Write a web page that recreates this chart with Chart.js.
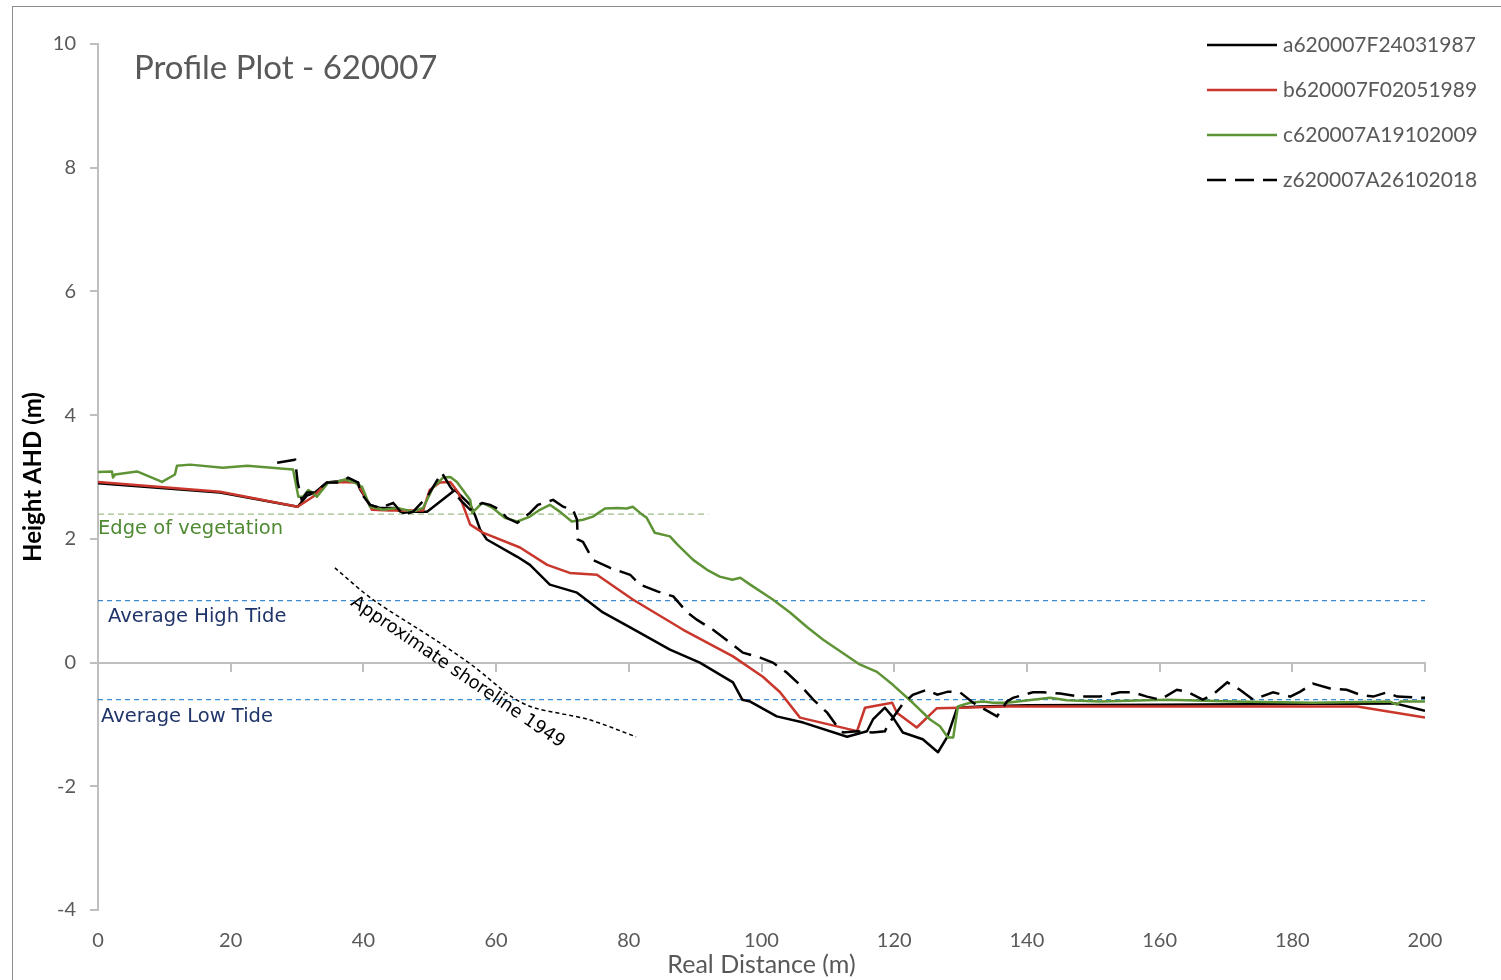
<!DOCTYPE html>
<html>
<head>
<meta charset="utf-8">
<title>Profile Plot - 620007</title>
<script src="https://cdn.jsdelivr.net/npm/chart.js@4.4.1/dist/chart.umd.min.js"></script>
<style>
  html, body { margin: 0; padding: 0; background: #ffffff; }
  #wrap { position: relative; width: 1501px; height: 980px; overflow: hidden; }
  #wrap canvas { position: absolute; left: 0; top: 0; }
  #frame { position: absolute; left: 12px; top: 6px; width: 1600px; height: 1100px;
           border: 1px solid #8c8c8c; pointer-events: none; }
</style>
</head>
<body>
<div id="wrap">
  <canvas id="profile" width="1501" height="980"></canvas>
  <div id="frame"></div>
</div>
<script>
// ---- Survey profiles: distance along the line (m) and height AHD (m) ----
const dist1987 = [0, 18.4, 30.1, 31.5, 32.7, 34.5, 37.7, 39.2, 39.5, 41.0,
  42.5, 44.5, 46.0, 47.5, 49.6, 53.8, 56.1, 56.8, 57.6, 58.6,
  63.2, 65.1, 68.1, 72.2, 76.1, 80.2, 86.2, 90.7, 95.7, 97.1,
  98.3, 102.3, 106.3, 112.9, 115.9, 116.8, 118.6, 119.7, 121.3, 124.3,
  126.6, 128.0, 129.5, 132.9, 140, 160, 180, 195.5, 200];
const height1987 = [2.90, 2.75, 2.52, 2.70, 2.75, 2.91, 2.95, 2.91, 2.80, 2.55,
  2.50, 2.50, 2.42, 2.44, 2.44, 2.79, 2.55, 2.39, 2.15, 1.99,
  1.71, 1.58, 1.26, 1.13, 0.81, 0.57, 0.21, 0.0, -0.32, -0.60,
  -0.63, -0.87, -0.97, -1.20, -1.11, -0.92, -0.73, -0.87, -1.13, -1.24,
  -1.45, -1.20, -0.73, -0.71, -0.69, -0.68, -0.67, -0.66, -0.78];

const dist1989 = [0, 18.4, 30.1, 32.4, 34.5, 36.0, 39.0, 39.9, 41.3, 44.0,
  49.0, 50.0, 51.5, 53.1, 54.3, 56.1, 58.0, 63.6, 67.7, 71.1,
  75.2, 80.6, 88.2, 95.7, 100.2, 102.8, 105.8, 113.3, 114.4, 115.6,
  119.7, 120.4, 123.4, 126.4, 129.9, 137.0, 189.8, 200];
const height1989 = [2.92, 2.76, 2.52, 2.68, 2.91, 2.92, 2.91, 2.75, 2.47, 2.46,
  2.46, 2.79, 2.91, 2.92, 2.75, 2.23, 2.10, 1.86, 1.58, 1.45,
  1.42, 1.02, 0.53, 0.10, -0.23, -0.48, -0.89, -1.08, -1.11, -0.73,
  -0.65, -0.81, -1.05, -0.74, -0.73, -0.71, -0.71, -0.89];

const dist2009 = [0, 2.1, 2.26, 2.56, 5.88, 9.65, 11.6, 11.9, 13.9, 18.8,
  22.5, 29.4, 30.2, 30.9, 31.7, 32.3, 33.0, 34.7, 36.0, 37.2,
  38.7, 39.8, 41.0, 43.0, 45.1, 47.5, 49.0, 50.5, 52.0, 53.1,
  54.1, 56.1, 56.4, 57.9, 59.5, 61.3, 63.2, 65.1, 66.6, 68.1,
  69.6, 71.4, 73.1, 74.6, 76.4, 78.2, 79.7, 80.6, 81.7, 82.7,
  83.9, 86.2, 87.3, 89.7, 91.8, 93.7, 95.6, 96.8, 98.3, 101.7,
  104.3, 106.9, 109.3, 114.8, 117.4, 119.8, 122.8, 125.4, 126.9, 128.1,
  128.9, 129.6, 131.4, 133.4, 134.9, 137.0, 143.5, 146.0, 151.0, 161.1,
  171.1, 183.1, 194.7, 195.8, 196.3, 200];
const height2009 = [3.08, 3.09, 2.99, 3.04, 3.09, 2.92, 3.04, 3.18, 3.20, 3.15,
  3.18, 3.12, 2.68, 2.68, 2.79, 2.75, 2.68, 2.91, 2.92, 2.96,
  2.91, 2.84, 2.52, 2.47, 2.50, 2.44, 2.50, 2.83, 2.99, 3.00,
  2.92, 2.63, 2.42, 2.58, 2.50, 2.34, 2.28, 2.36, 2.47, 2.55,
  2.44, 2.28, 2.31, 2.36, 2.49, 2.50, 2.49, 2.52, 2.42, 2.34,
  2.10, 2.04, 1.91, 1.66, 1.50, 1.39, 1.34, 1.37, 1.26, 1.02,
  0.81, 0.57, 0.37, -0.03, -0.15, -0.36, -0.65, -0.92, -1.03, -1.21,
  -1.21, -0.71, -0.65, -0.63, -0.65, -0.65, -0.57, -0.61, -0.63, -0.60,
  -0.63, -0.65, -0.63, -0.68, -0.63, -0.63];

const dist2018 = [27.0, 29.7, 30.1, 30.7, 31.5, 32.7, 34.5, 36.5, 37.7, 39.2,
  39.5, 41.0, 42.5, 44.5, 46.0, 47.5, 49.6, 51.8, 53.1, 54.6,
  56.1, 57.9, 59.1, 60.6, 61.6, 63.2, 65.1, 66.3, 68.6, 70.1,
  71.6, 72.2, 72.3, 73.1, 74.6, 77.2, 80.2, 81.7, 84.3, 86.7,
  88.8, 90.3, 92.7, 95.3, 97.2, 99.8, 101.7, 103.8, 105.8, 107.8,
  109.9, 111.4, 112.3, 114.4, 116.7, 118.6, 119.1, 121.2, 122.8, 124.9,
  126.5, 128.1, 129.9, 131.9, 135.5, 137.0, 137.9, 140.9, 142.4, 145.0,
  148.0, 151.0, 154.0, 156.0, 158.1, 160.1, 162.6, 164.1, 166.5, 168.0,
  170.2, 172.1, 174.1, 177.1, 179.7, 181.2, 183.1, 185.7, 188.2, 190.2,
  192.2, 194.3, 195.8, 200];
const height2018 = [3.23, 3.28, 2.91, 2.63, 2.75, 2.75, 2.91, 2.91, 2.99, 2.91,
  2.76, 2.55, 2.50, 2.58, 2.39, 2.44, 2.68, 3.07, 2.84, 2.63,
  2.47, 2.58, 2.55, 2.47, 2.34, 2.26, 2.42, 2.55, 2.63, 2.52,
  2.47, 2.31, 1.99, 1.95, 1.66, 1.53, 1.42, 1.26, 1.15, 1.07,
  0.81, 0.69, 0.53, 0.32, 0.16, 0.08, 0.0, -0.16, -0.36, -0.60,
  -0.81, -1.03, -1.13, -1.11, -1.13, -1.11, -1.00, -0.68, -0.52, -0.44,
  -0.52, -0.47, -0.48, -0.65, -0.87, -0.63, -0.57, -0.48, -0.48, -0.50,
  -0.55, -0.55, -0.48, -0.48, -0.55, -0.60, -0.44, -0.47, -0.60, -0.52,
  -0.32, -0.44, -0.60, -0.48, -0.55, -0.47, -0.34, -0.42, -0.44, -0.52,
  -0.55, -0.48, -0.55, -0.57];

// Approximate 1949 shoreline, traced as a separate line
const dist1949 = [35.7, 41.4, 50.8, 56.6, 62.3, 65.7, 73.9, 81.1];
const height1949 = [1.53, 1.02, 0.37, -0.06, -0.55, -0.73, -0.92, -1.20];

// Reference levels (m AHD) and their extents along the profile (m)
const vegetationLevel = 2.4;
const vegetationExtent = [0, 92];
const highTideLevel = 1.0;
const lowTideLevel = -0.6;
const tideExtent = [0, 200];

// Series names and axis ticks
const seriesNames = ['a620007F24031987', 'b620007F02051989', 'c620007A19102009', 'z620007A26102018'];
const xTicks = [0, 20, 40, 60, 80, 100, 120, 140, 160, 180, 200];
const yTicks = [-4, -2, 0, 2, 4, 6, 8, 10];

const chartTitle = 'Profile Plot - 620007';
const xTitle = 'Real Distance (m)';
const yTitle = 'Height AHD (m)';
const vegetationLabel = 'Edge of vegetation';
const highTideLabel = 'Average High Tide';
const lowTideLabel = 'Average Low Tide';
const shorelineLabel = 'Approximate shoreline 1949';

// ---- Styling ----
const UI_FONT = 'Lato, "Open Sans", sans-serif';
const NOTE_FONT = '"DejaVu Sans", sans-serif';
const AXIS_GREY = '#BFBFBF';
const TEXT_GREY = '#595959';
const RED = '#C9372C';
const GREEN = '#5F9436';

const toPoints = (xs, ys) => xs.map((x, i) => ({ x: x, y: ys[i] }));
const levelLine = (level, extent) => extent.map(x => ({ x: x, y: level }));

const profileStyle = {
  showLine: true, pointRadius: 0, pointHoverRadius: 0, borderWidth: 2.5,
  tension: 0, borderJoinStyle: 'round', fill: false
};

const datasets = [
  Object.assign({}, profileStyle, { label: seriesNames[0], data: toPoints(dist1987, height1987),
    borderColor: '#000000', order: 4 }),
  Object.assign({}, profileStyle, { label: seriesNames[1], data: toPoints(dist1989, height1989),
    borderColor: RED, order: 3 }),
  Object.assign({}, profileStyle, { label: seriesNames[2], data: toPoints(dist2009, height2009),
    borderColor: GREEN, order: 2 }),
  Object.assign({}, profileStyle, { label: seriesNames[3], data: toPoints(dist2018, height2018),
    borderColor: '#000000', borderDash: [19, 9], borderJoinStyle: 'miter', order: 1 }),
  { label: 'shoreline1949', data: toPoints(dist1949, height1949), showLine: true, pointRadius: 0,
    borderColor: '#000000', borderWidth: 1.5, borderDash: [4, 3], tension: 0.3, order: 5 },
  { label: 'vegetation', data: levelLine(vegetationLevel, vegetationExtent), showLine: true, pointRadius: 0,
    borderColor: '#9DBE88', borderWidth: 1.4, borderDash: [6, 4], order: 10 },
  { label: 'highTide', data: levelLine(highTideLevel, tideExtent), showLine: true, pointRadius: 0,
    borderColor: '#3A8BD0', borderWidth: 1.2, borderDash: [5, 4], order: 10 },
  { label: 'lowTide', data: levelLine(lowTideLevel, tideExtent), showLine: true, pointRadius: 0,
    borderColor: '#3A8BD0', borderWidth: 1.2, borderDash: [5, 4], order: 10 }
];

// Title, in-plot notes and the series key
const decorations = {
  id: 'profileDecorations',
  afterDraw(chart) {
    const { ctx, scales: { x, y } } = chart;
    ctx.save();

    ctx.textBaseline = 'middle';
    ctx.textAlign = 'left';
    ctx.fillStyle = TEXT_GREY;
    ctx.font = '33px ' + UI_FONT;
    ctx.fillText(chartTitle, x.left + 36, y.top + 24);

    ctx.font = '19.5px ' + NOTE_FONT;
    ctx.fillStyle = '#4E8A32';
    ctx.fillText(vegetationLabel, x.getPixelForValue(0), y.getPixelForValue(vegetationLevel) + 15);
    ctx.fillStyle = '#1F3468';
    ctx.fillText(highTideLabel, x.getPixelForValue(0) + 10, y.getPixelForValue(highTideLevel) + 16);
    ctx.fillText(lowTideLabel, x.getPixelForValue(0) + 3, y.getPixelForValue(lowTideLevel) + 17);

    // shoreline note, set along the traced line
    ctx.save();
    ctx.fillStyle = '#000000';
    ctx.font = '18px ' + NOTE_FONT;
    ctx.translate(x.getPixelForValue(54.2), y.getPixelForValue(-0.16));
    ctx.rotate(34.3 * Math.PI / 180);
    ctx.textAlign = 'center';
    ctx.fillText(shorelineLabel, 0, 0);
    ctx.restore();

    // key for the four surveys
    const keyLeft = chart.width - 294;
    ctx.font = '21px ' + UI_FONT;
    for (let i = 0; i < 4; i++) {
      const ds = chart.data.datasets[i];
      const rowY = y.top + 1 + i * 45;
      ctx.beginPath();
      ctx.setLineDash(ds.borderDash || []);
      ctx.lineWidth = 2.5;
      ctx.strokeStyle = ds.borderColor;
      ctx.moveTo(keyLeft, rowY);
      ctx.lineTo(keyLeft + 70, rowY);
      ctx.stroke();
      ctx.setLineDash([]);
      ctx.fillStyle = TEXT_GREY;
      ctx.fillText(ds.label, keyLeft + 76, rowY);
    }
    ctx.restore();
  }
};

new Chart(document.getElementById('profile'), {
  type: 'scatter',
  data: { datasets: datasets },
  plugins: [decorations],
  options: {
    responsive: false,
    animation: false,
    layout: { padding: { top: 44, right: 76, bottom: 0, left: 0 } },
    plugins: { legend: { display: false }, tooltip: { enabled: false } },
    scales: {
      x: {
        type: 'linear', position: 'bottom', min: xTicks[0], max: xTicks[xTicks.length - 1],
        afterBuildTicks: s => { s.ticks = xTicks.map(v => ({ value: v })); },
        ticks: { color: TEXT_GREY, font: { family: UI_FONT, size: 20 }, padding: 19, maxRotation: 0 },
        grid: { display: false, drawTicks: false, tickLength: 0 },
        border: { display: false },
        title: { display: true, text: xTitle, color: TEXT_GREY, font: { family: UI_FONT, size: 25 },
                 padding: { top: 0, bottom: 0 } },
        afterFit: s => { s.height = 70; }
      },
      zeroAxis: {
        type: 'linear', axis: 'x', position: { y: 0 }, min: xTicks[0], max: xTicks[xTicks.length - 1],
        afterBuildTicks: s => { s.ticks = xTicks.map(v => ({ value: v })); },
        ticks: { display: false },
        grid: { drawOnChartArea: false, drawTicks: true, tickLength: 8, color: AXIS_GREY, lineWidth: 2 },
        border: { display: true, color: AXIS_GREY, width: 2 }
      },
      y: {
        type: 'linear', position: 'left', min: yTicks[0], max: yTicks[yTicks.length - 1],
        afterBuildTicks: s => { s.ticks = yTicks.map(v => ({ value: v })); },
        ticks: { color: TEXT_GREY, font: { family: UI_FONT, size: 20 }, padding: 14 },
        grid: { drawOnChartArea: false, drawTicks: true, tickLength: 8, color: AXIS_GREY, lineWidth: 2 },
        border: { display: true, color: AXIS_GREY, width: 2 },
        title: { display: true, text: yTitle, color: '#000000',
                 font: { family: UI_FONT, size: 24, weight: 'bold' }, padding: { top: 19, bottom: 0 } },
        afterFit: s => { s.width = 98; }
      }
    }
  }
});
</script>
</body>
</html>
